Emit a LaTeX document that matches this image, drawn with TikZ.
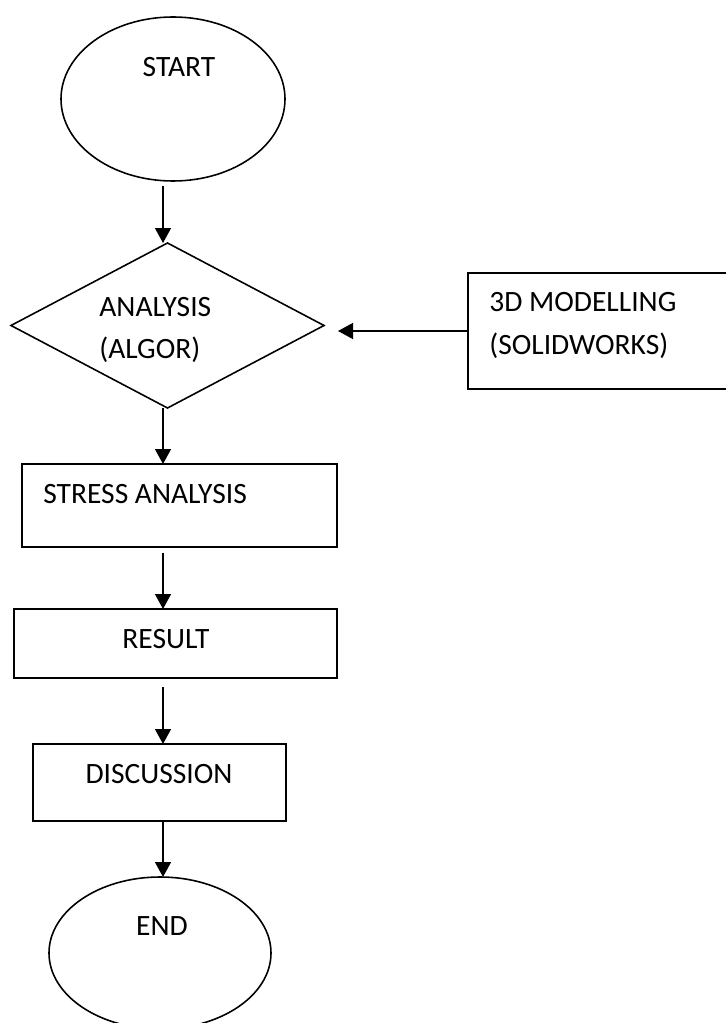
\documentclass[tikz,border=0pt]{standalone}
\usepackage{fontspec}
\setmainfont{Carlito}
\usetikzlibrary{calc,shapes.geometric,arrows.meta}
\newcommand{\px}{0.02cm}
\tikzset{
  terminal/.style={draw, ellipse, line width=0.9pt, inner sep=0pt, outer sep=0pt},
  decision/.style={draw, diamond, line width=0.9pt, inner sep=0pt, outer sep=0pt},
  process/.style={draw, rectangle, line width=1pt, inner sep=0pt, outer sep=0pt},
  txt/.style={inner sep=0pt, font=\fontsize{16.8}{20}\selectfont},
  flow/.style={-{Triangle[length=0.3cm, width=0.32cm]}, line width=0.8pt},
}

\begin{document}
\begin{tikzpicture}[x=\px, y=-\px]
  \useasboundingbox (0,0) rectangle (725,1023);
  \coordinate (spine) at (163,0);

  \node[terminal, minimum width=224*\px, minimum height=164*\px] (start) at (173,99) {};
  \node[txt, anchor=base] (start-txt) at (179,77) {START};

  \node[decision, minimum width=313*\px, minimum height=165*\px] (analysis) at (167.5,325.5) {};
  \node[txt, anchor=base west] (analysis-txt1) at (99,317) {ANALYSIS};
  \node[txt, anchor=base west] (analysis-txt2) at (99,358) {(ALGOR)};

  \node[process, minimum width=267*\px, minimum height=116*\px] (model) at (601.5,331) {};
  \node[txt, anchor=base west] (model-txt1) at (489,312) {3D MODELLING};
  \node[txt, anchor=base west] (model-txt2) at (489,355) {(SOLIDWORKS)};

  \node[process, minimum width=315*\px, minimum height=83*\px] (stress) at (179.5,505.5) {};
  \node[txt, anchor=base west] (stress-txt) at (43,503) {STRESS ANALYSIS};

  \node[process, minimum width=323*\px, minimum height=69*\px] (result) at (175.5,643.5) {};
  \node[txt, anchor=base] (result-txt) at (166,648) {RESULT};

  \node[process, minimum width=253*\px, minimum height=77*\px] (discussion) at (159.5,782.5) {};
  \node[txt, anchor=base] (discussion-txt) at (159,783) {DISCUSSION};

  \node[terminal, minimum width=222*\px, minimum height=152*\px] (end) at (160,953) {};
  \node[txt, anchor=base] (end-txt) at (162,935) {END};

  \foreach \from/\to/\gap in {start/analysis/0.1cm, analysis/stress/0cm, stress/result/0.12cm,
                              result/discussion/0.18cm, discussion/end/0cm}
    \draw[flow, shorten <=\gap] (\from.south -| spine) -- (\to.north -| spine);

  \draw[flow, shorten >=0.28cm] (model.west) -- (model.west -| analysis.east);
\end{tikzpicture}
\end{document}
